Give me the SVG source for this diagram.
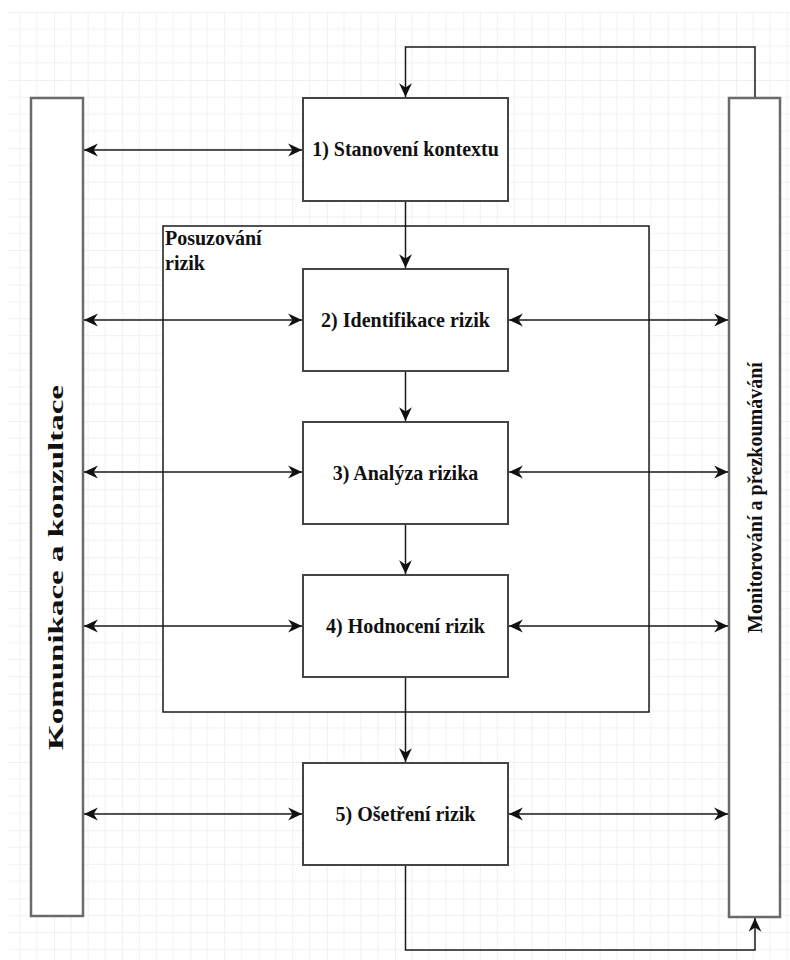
<svg xmlns="http://www.w3.org/2000/svg" width="790" height="960" viewBox="0 0 790 960">
  <defs>
    <pattern id="grid" patternUnits="userSpaceOnUse" x="54" y="80" width="68.2" height="68.2">
      <path d="M17.05,0 V68.2 M34.1,0 V68.2 M51.15,0 V68.2 M0,17.05 H68.2 M0,34.1 H68.2 M0,51.15 H68.2" stroke="#f1f1f1" stroke-width="1" fill="none"/>
      <path d="M0,0 V68.2 M0,0 H68.2" stroke="#e1e1e1" stroke-width="1" fill="none"/>
    </pattern>
    <marker id="arr" markerUnits="userSpaceOnUse" markerWidth="16" markerHeight="16" viewBox="-14 -7 15 14" refX="0" refY="0" orient="auto-start-reverse">
      <path d="M0,0 L-13,-6 L-9,0 L-13,6 Z" fill="#111"/>
    </marker>
    <style>
      .box { fill: #fff; stroke: #444; stroke-width: 2; }
      .side { fill: #fff; stroke: #6a6a6a; stroke-width: 2.5; }
      .group { fill: #fff; stroke: #1a1a1a; stroke-width: 1.5; }
      .lbl { font-family: "Liberation Serif", "Times New Roman", serif; font-weight: bold; font-size: 20px; fill: #111; }
      .c { text-anchor: middle; }
      .conn path { fill: none; stroke: #1a1a1a; stroke-width: 1.5; }
    </style>
  </defs>
  <rect x="0" y="0" width="790" height="960" fill="#fff"/>
  <rect x="9" y="12" width="781" height="948" fill="url(#grid)"/>

  <g id="komunikace">
    <rect class="side" x="31" y="98" width="52" height="818"/>
    <text class="lbl c" transform="translate(63,567.5) rotate(-90)" textLength="365" lengthAdjust="spacingAndGlyphs">Komunikace a konzultace</text>
  </g>
  <g id="monitorovani">
    <rect class="side" x="729" y="98" width="51" height="819"/>
    <text class="lbl c" transform="translate(762,497.5) rotate(-90)">Monitorování a přezkoumávání</text>
  </g>
  <g id="posuzovani">
    <rect class="group" x="163" y="226" width="486" height="486"/>
    <text class="lbl" x="165" y="245" font-size="21">Posuzování</text>
    <text class="lbl" x="165" y="270" font-size="21">rizik</text>
  </g>
  <g id="n1">
    <rect class="box" x="303" y="98" width="205" height="103"/>
    <text class="lbl c" x="405.5" y="156">1) Stanovení kontextu</text>
  </g>
  <g id="n2">
    <rect class="box" x="303" y="269" width="205" height="102"/>
    <text class="lbl c" x="405.5" y="326.5">2) Identifikace rizik</text>
  </g>
  <g id="n3">
    <rect class="box" x="303" y="422" width="205" height="102"/>
    <text class="lbl c" x="405.5" y="479.5">3) Analýza rizika</text>
  </g>
  <g id="n4">
    <rect class="box" x="303" y="575" width="205" height="102"/>
    <text class="lbl c" x="405.5" y="632.5">4) Hodnocení rizik</text>
  </g>
  <g id="n5">
    <rect class="box" x="303" y="763" width="205" height="102"/>
    <text class="lbl c" x="405.5" y="820.5">5) Ošetření rizik</text>
  </g>

  <g id="connectors" class="conn">
    <path d="M84,150 H302" marker-start="url(#arr)" marker-end="url(#arr)"/>
    <path d="M84,320 H302" marker-start="url(#arr)" marker-end="url(#arr)"/>
    <path d="M509,320 H728" marker-start="url(#arr)" marker-end="url(#arr)"/>
    <path d="M84,472 H302" marker-start="url(#arr)" marker-end="url(#arr)"/>
    <path d="M509,472 H728" marker-start="url(#arr)" marker-end="url(#arr)"/>
    <path d="M84,626 H302" marker-start="url(#arr)" marker-end="url(#arr)"/>
    <path d="M509,626 H728" marker-start="url(#arr)" marker-end="url(#arr)"/>
    <path d="M84,814 H302" marker-start="url(#arr)" marker-end="url(#arr)"/>
    <path d="M509,814 H728" marker-start="url(#arr)" marker-end="url(#arr)"/>
    <path d="M405.5,202 V268" marker-end="url(#arr)"/>
    <path d="M405.5,372 V421" marker-end="url(#arr)"/>
    <path d="M405.5,525 V574" marker-end="url(#arr)"/>
    <path d="M405.5,678 V762" marker-end="url(#arr)"/>
    <path d="M405.5,866 V950 H755 V918" marker-end="url(#arr)"/>
    <path d="M755,97 V47 H405.5 V97" marker-end="url(#arr)"/>
  </g>
</svg>
